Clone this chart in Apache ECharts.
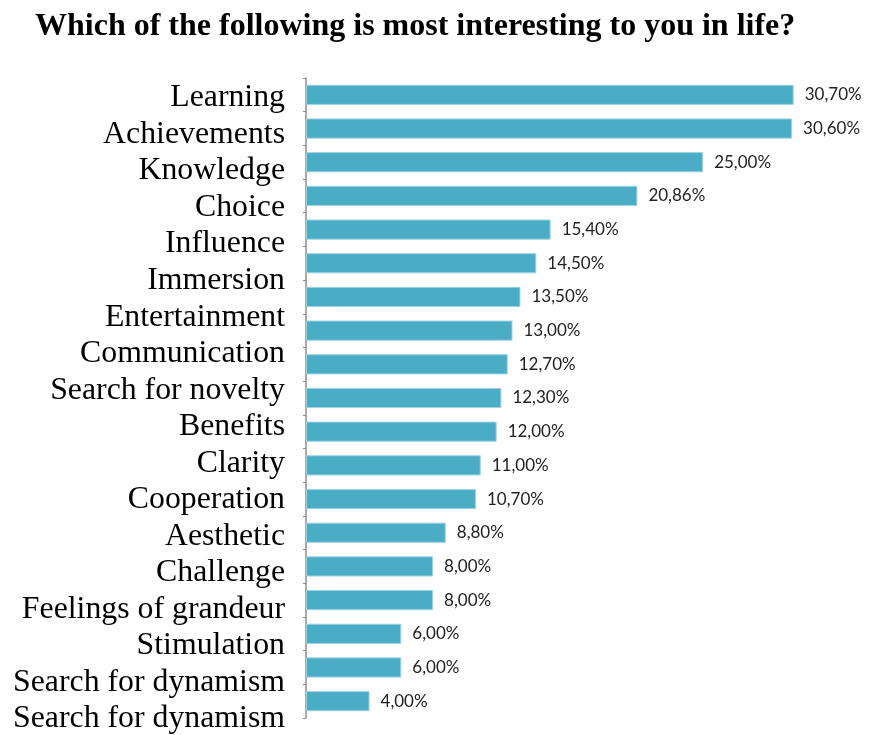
<!DOCTYPE html>
<html>
<head>
<meta charset="utf-8">
<script src="https://cdn.jsdelivr.net/npm/echarts@6/dist/echarts.min.js"></script>
<style>
  html, body { margin: 0; padding: 0; background: #fff; }
  #chart { width: 870px; height: 735px; }
</style>
</head>
<body>
<div id="chart"></div>
<script>
// Survey answers, in the order the bars are drawn (top to bottom)
const barValues = [30.70, 30.60, 25.00, 20.86, 15.40, 14.50, 13.50, 13.00, 12.70, 12.30,
                   12.00, 11.00, 10.70, 8.80, 8.00, 8.00, 6.00, 6.00, 4.00];

// Text column listed beside the bars
const answerLabels = ['Learning', 'Achievements', 'Knowledge', 'Choice', 'Influence', 'Immersion',
                      'Entertainment', 'Communication', 'Search for novelty', 'Benefits', 'Clarity',
                      'Cooperation', 'Aesthetic', 'Challenge', 'Feelings of grandeur', 'Stimulation',
                      'Search for dynamism', 'Search for dynamism'];

const titleText = 'Which of the following is most interesting to you in life?';

const barSlots = barValues.map((_, i) => 'r' + (i + 1));

function pct(v) {
  return v.toFixed(2).replace('.', ',') + '%';
}

const chart = echarts.init(document.getElementById('chart'), null, { renderer: 'canvas' });

chart.setOption({
  backgroundColor: '#ffffff',
  animation: false,
  title: {
    text: titleText,
    left: 30,
    top: 6,
    textStyle: {
      fontFamily: '"Liberation Serif", "Times New Roman", serif',
      fontWeight: 'bold',
      fontSize: 32,
      color: '#000'
    }
  },
  grid: [
    { left: 306, top: 78, width: 556, height: 640 },
    { left: 0, top: 98, width: 285, height: 624 }
  ],
  xAxis: [
    { gridIndex: 0, type: 'value', min: 0, max: 35, show: false },
    { gridIndex: 1, type: 'value', min: 0, max: 1, show: false }
  ],
  yAxis: [
    {
      gridIndex: 0,
      type: 'category',
      data: barSlots,
      inverse: true,
      axisLine: { show: true, lineStyle: { color: '#8c8c8c', width: 1.5 } },
      axisTick: { show: true, length: 3, lineStyle: { color: '#8c8c8c' } },
      axisLabel: { show: false },
      splitLine: { show: false }
    },
    {
      gridIndex: 1,
      type: 'category',
      data: answerLabels,
      inverse: true,
      boundaryGap: false,
      axisLine: { show: false },
      axisTick: { show: false },
      splitLine: { show: false },
      axisLabel: {
        show: true,
        interval: 0,
        margin: 0,
        align: 'right',
        fontFamily: '"Liberation Serif", "Times New Roman", serif',
        fontSize: 31.8,
        color: '#000'
      }
    }
  ],
  series: [
    {
      type: 'bar',
      xAxisIndex: 0,
      yAxisIndex: 0,
      data: barValues,
      barCategoryGap: '40%',
      itemStyle: { color: '#4BACC6', borderColor: '#9fd3e2', borderWidth: 1 },
      label: {
        show: true,
        position: 'right',
        distance: 11,
        formatter: p => pct(p.value),
        fontFamily: 'Lato, "Open Sans", sans-serif',
        fontSize: 17,
        color: '#222'
      }
    }
  ]
});
</script>
</body>
</html>
